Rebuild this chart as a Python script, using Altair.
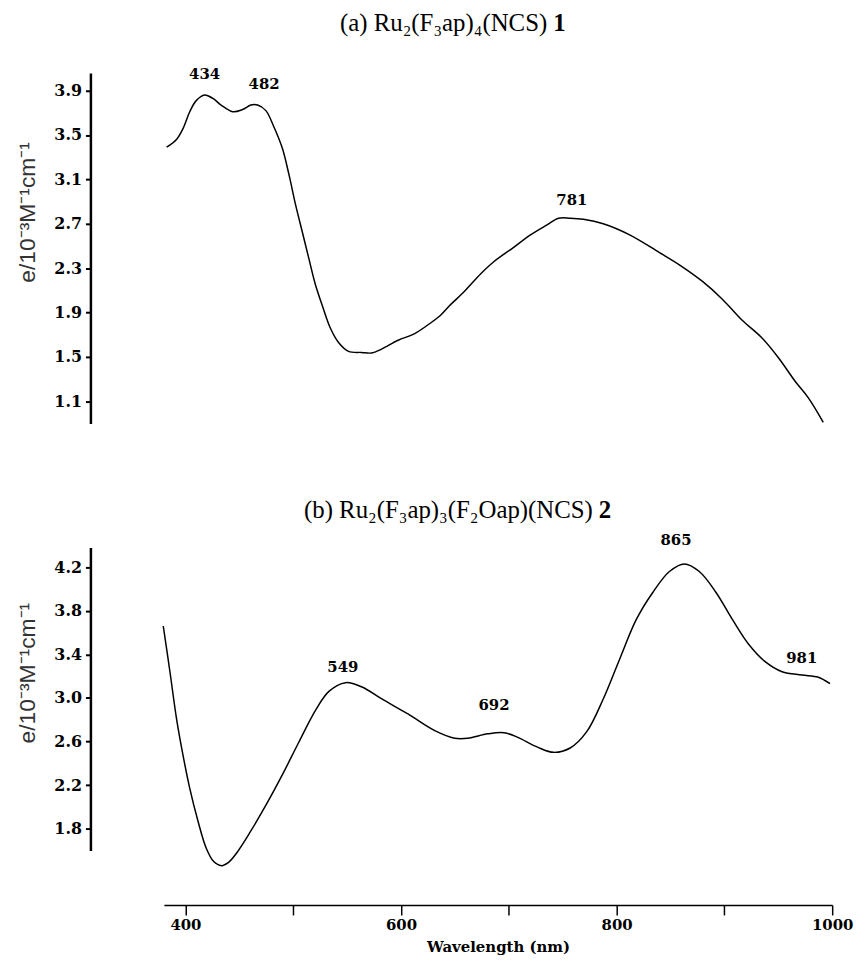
import altair as alt
import pandas as pd

# ---------------- data ----------------
top_wl = [382.5, 391.7, 397.8, 404, 410, 417.8, 425.4, 433.1, 443.8, 453, 460.7, 466.9,
          474.6, 482.2, 489.9, 496.1, 502.2, 508.3, 514.4, 520.6, 526.7, 534.4, 542, 551.3,
          563.5, 572.7, 581.9, 597.3, 612.7, 628, 637.2, 644.9, 658.7, 674, 686.3, 704.8,
          720.1, 735.4, 746.2, 756.9, 769.2, 787.6, 812.1, 839.8, 858.2, 879.7, 898.1, 916.5,
          934.9, 950.3, 965.6, 977.9, 991.7]
top_eps = [3.39, 3.46, 3.56, 3.71, 3.81, 3.86, 3.83, 3.77, 3.71, 3.73, 3.77, 3.77,
           3.72, 3.57, 3.38, 3.14, 2.87, 2.63, 2.39, 2.15, 1.97, 1.76, 1.63, 1.55,
           1.54, 1.535, 1.57, 1.65, 1.71, 1.81, 1.88, 1.96, 2.09, 2.25, 2.36, 2.49,
           2.60, 2.69, 2.75, 2.75, 2.74, 2.70, 2.60, 2.44, 2.33, 2.18, 2.02, 1.83,
           1.67, 1.49, 1.28, 1.13, 0.91]

bot_wl = [379.4, 385.6, 391.7, 397.8, 404, 411.6, 419.3, 426, 433.4, 440, 447, 459.5,
          474.9, 490.2, 505.5, 520.9, 533.1, 548.5, 563.8, 582.2, 606.8, 631.3, 649.8, 662,
          680.4, 695.7, 707.8, 726.2, 741.6, 756.9, 772.3, 787.6, 803, 818.3, 833.7, 849,
          862.9, 876.7, 892.1, 907.4, 922.7, 938.1, 953.5, 971.9, 987.2, 998]
bot_eps = [3.66, 3.24, 2.81, 2.47, 2.17, 1.87, 1.62, 1.50, 1.46, 1.49, 1.57, 1.76,
           2.02, 2.30, 2.60, 2.89, 3.06, 3.14, 3.10, 2.99, 2.85, 2.70, 2.63, 2.63,
           2.67, 2.68, 2.64, 2.55, 2.50, 2.54, 2.69, 2.99, 3.36, 3.72, 3.97, 4.16,
           4.23, 4.16, 3.97, 3.72, 3.49, 3.33, 3.24, 3.21, 3.19, 3.13]

top_peak_text = ["434", "482", "781"]
top_peak_wl = [417.8, 473.0, 758.5]
top_peak_eps = [4.05, 3.96, 2.91]

bot_peak_text = ["549", "692", "865", "981"]
bot_peak_wl = [546, 686.3, 855.1, 971.8]
bot_peak_eps = [3.28, 2.93, 4.45, 3.37]

title_a_main = ["(a)  Ru\u2082(F\u2083ap)\u2084(NCS)"]
title_a_bold = ["1"]
title_b_main = ["(b)  Ru\u2082(F\u2083ap)\u2083(F\u2082Oap)(NCS)"]
title_b_bold = ["2"]

y_title = "e/10\u207b\u00b3M\u207b\u00b9cm\u207b\u00b9"
x_title = "Wavelength (nm)"

top_ticks = [1.1, 1.5, 1.9, 2.3, 2.7, 3.1, 3.5, 3.9]
bot_ticks = [1.8, 2.2, 2.6, 3.0, 3.4, 3.8, 4.2]
x_ticks = [400, 500, 600, 700, 800, 900, 1000]

x_domain = [380, 1000]
top_domain = [0.9, 4.06]
bot_domain = [1.6, 4.38]

# ---------------- styling ----------------
W = 673
H_TOP = 353
H_BOT = 305
NUM_FONT = "DejaVu Serif"
TITLE_FONT = "Liberation Serif"
TFS = 25

def yaxis(values, title_y):
    return alt.Axis(
        values=values, format=".1f", offset=74, grid=False,
        domainColor="black", domainWidth=2.5,
        tickColor="black", tickWidth=2, tickSize=5,
        labelFont=NUM_FONT, labelFontWeight="bold", labelFontSize=16,
        labelColor="black", labelPadding=4, labelOverlap=False,
        title=y_title, titleFont="Liberation Sans", titleFontSize=23,
        titleFontWeight="normal", titleColor="#333333", titleAngle=270,
        titleBaseline="middle", titleAlign="center", titleX=-63, titleY=title_y,
    )

xscale = alt.Scale(domain=x_domain, nice=False, zero=False)

# ---- top panel ----
top_df = pd.DataFrame({"wl": top_wl, "eps": top_eps})
top_lab_df = pd.DataFrame({"wl": top_peak_wl, "eps": top_peak_eps, "t": top_peak_text})

top_line = alt.Chart(top_df).mark_line(
    color="black", strokeWidth=1.5, interpolate="catmull-rom", clip=False
).encode(
    x=alt.X("wl:Q", scale=xscale, axis=None),
    y=alt.Y("eps:Q", scale=alt.Scale(domain=top_domain, nice=False, zero=False),
            axis=yaxis(top_ticks, 140)),
)
top_lab = alt.Chart(top_lab_df).mark_text(
    font=NUM_FONT, fontWeight="bold", fontSize=15, color="black", baseline="middle"
).encode(x="wl:Q", y="eps:Q", text="t:N")

ta1 = alt.Chart(pd.DataFrame({"t": title_a_main})).mark_text(
    font=TITLE_FONT, fontSize=TFS, align="right", baseline="middle", color="black"
).encode(text="t:N", x=alt.value(386), y=alt.value(-50))
ta2 = alt.Chart(pd.DataFrame({"t": title_a_bold})).mark_text(
    font=TITLE_FONT, fontSize=TFS, fontWeight="bold", align="left", baseline="middle", color="black"
).encode(text="t:N", x=alt.value(392), y=alt.value(-50))

top = alt.layer(top_line, top_lab, ta1, ta2).properties(width=W, height=H_TOP)

# ---- bottom panel ----
bot_df = pd.DataFrame({"wl": bot_wl, "eps": bot_eps})
bot_lab_df = pd.DataFrame({"wl": bot_peak_wl, "eps": bot_peak_eps, "t": bot_peak_text})

bot_line = alt.Chart(bot_df).mark_line(
    color="black", strokeWidth=1.5, interpolate="catmull-rom", clip=False
).encode(
    x=alt.X("wl:Q", scale=xscale, axis=alt.Axis(
        values=x_ticks, format="d", offset=55, grid=False,
        labelExpr="datum.value % 200 == 0 ? datum.label : ''",
        domainColor="black", domainWidth=1.5, tickColor="black", tickWidth=1.5, tickSize=10,
        labelFont=NUM_FONT, labelFontWeight="bold", labelFontSize=15, labelColor="black",
        labelPadding=3, labelFlush=False, labelOverlap=False,
        title=x_title, titleFont=NUM_FONT, titleFontWeight="bold", titleFontSize=15,
        titleColor="black", titlePadding=7,
    )),
    y=alt.Y("eps:Q", scale=alt.Scale(domain=bot_domain, nice=False, zero=False),
            axis=yaxis(bot_ticks, 126)),
)
bot_lab = alt.Chart(bot_lab_df).mark_text(
    font=NUM_FONT, fontWeight="bold", fontSize=15, color="black", baseline="middle"
).encode(x="wl:Q", y="eps:Q", text="t:N")

tb1 = alt.Chart(pd.DataFrame({"t": title_b_main})).mark_text(
    font=TITLE_FONT, fontSize=TFS, align="right", baseline="middle", color="black"
).encode(text="t:N", x=alt.value(432), y=alt.value(-38))
tb2 = alt.Chart(pd.DataFrame({"t": title_b_bold})).mark_text(
    font=TITLE_FONT, fontSize=TFS, fontWeight="bold", align="left", baseline="middle", color="black"
).encode(text="t:N", x=alt.value(438), y=alt.value(-38))

bottom = alt.layer(bot_line, bot_lab, tb1, tb2).properties(width=W, height=H_BOT)

chart = alt.vconcat(top, bottom, spacing=125, bounds="flush").properties(
    padding={"left": 9, "top": 0, "right": 5, "bottom": 2},
    background="white",
).configure_view(stroke=None)

chart.save("out.html", embed_options={"renderer": "svg", "actions": False})
